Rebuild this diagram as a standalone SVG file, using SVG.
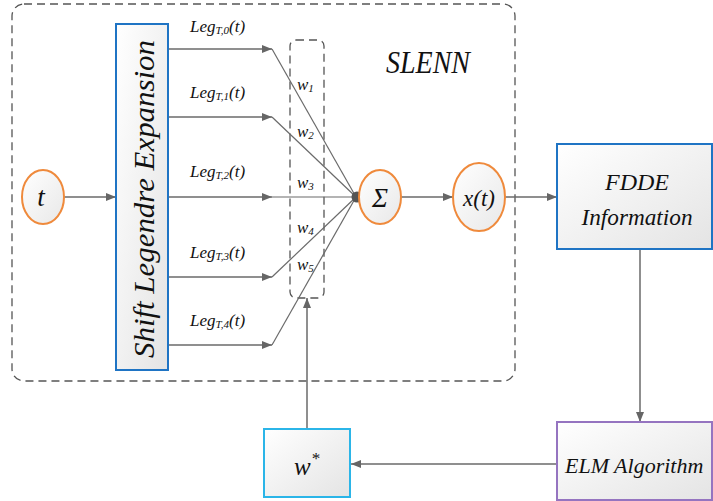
<svg xmlns="http://www.w3.org/2000/svg" width="713" height="501" viewBox="0 0 713 501">
  <defs>
    <linearGradient id="boxFill" x1="0" y1="0" x2="1" y2="1">
      <stop offset="0" stop-color="#ffffff"/>
      <stop offset="1" stop-color="#e4e4e4"/>
    </linearGradient>
    <linearGradient id="nodeFill" x1="0" y1="0" x2="1" y2="1">
      <stop offset="0" stop-color="#ffffff"/>
      <stop offset="1" stop-color="#e8e8e8"/>
    </linearGradient>
    <marker id="arrow" viewBox="0 0 10 8" refX="10" refY="4" markerWidth="10" markerHeight="8" markerUnits="userSpaceOnUse" orient="auto">
      <path d="M0,0 L10,4 L0,8 Z" fill="#666666"/>
    </marker>
  </defs>
  <style>
    .txt { font-family: "Liberation Serif", "Times New Roman", serif; font-style: italic; fill: #111111; }
    .link { stroke: #6a6a6a; stroke-width: 1.5; fill: none; }
    .thin { stroke: #6a6a6a; stroke-width: 1.2; fill: none; }
    .dash { stroke: #555555; stroke-width: 1.3; fill: none; stroke-dasharray: 8 5; }
    .node { fill: url(#nodeFill); stroke: #ef8a3c; stroke-width: 2; }
    .box { fill: url(#boxFill); stroke-width: 2; }
  </style>

  <rect width="713" height="501" fill="#ffffff"/>

  <!-- SLENN network frame -->
  <g id="slenn-frame">
    <rect class="dash" x="12" y="4" width="503" height="377" rx="12"/>
    <text class="txt" x="386" y="73" font-size="31" textLength="84" lengthAdjust="spacingAndGlyphs">SLENN</text>
  </g>

  <!-- weight block -->
  <g id="weights">
    <rect class="dash" x="290" y="40" width="34" height="258" rx="6" stroke-dasharray="7 5"/>
  </g>

  <!-- connectors -->
  <g id="connectors">
    <line class="link" x1="64" y1="197" x2="116" y2="197" marker-end="url(#arrow)"/>
    <line class="link" x1="168" y1="49" x2="272" y2="49" marker-end="url(#arrow)"/>
    <line class="link" x1="168" y1="117" x2="272" y2="117" marker-end="url(#arrow)"/>
    <line class="link" x1="168" y1="197" x2="272" y2="197" marker-end="url(#arrow)"/>
    <line class="link" x1="168" y1="277" x2="272" y2="277" marker-end="url(#arrow)"/>
    <line class="link" x1="168" y1="345" x2="272" y2="345" marker-end="url(#arrow)"/>
    <line class="thin" x1="272" y1="49" x2="356" y2="197"/>
    <line class="thin" x1="272" y1="117" x2="356" y2="197"/>
    <line class="thin" x1="272" y1="197" x2="356" y2="197"/>
    <line class="thin" x1="272" y1="277" x2="356" y2="197"/>
    <line class="thin" x1="272" y1="345" x2="356" y2="197"/>
    <line class="link" x1="401" y1="197" x2="453" y2="197" marker-end="url(#arrow)"/>
    <line class="link" x1="505" y1="197" x2="557" y2="197" marker-end="url(#arrow)"/>
    <line class="link" x1="640" y1="249" x2="640" y2="422" marker-end="url(#arrow)"/>
    <line class="link" x1="557" y1="464" x2="351" y2="464" marker-end="url(#arrow)"/>
    <line class="link" x1="307" y1="429" x2="307" y2="298" marker-end="url(#arrow)"/>
  </g>

  <!-- expansion labels -->
  <g id="leg-labels" class="txt" font-size="17">
    <text x="190" y="32">Leg<tspan font-size="11" dy="2">T,0</tspan><tspan dy="-2">(t)</tspan></text>
    <text x="190" y="98">Leg<tspan font-size="11" dy="2">T,1</tspan><tspan dy="-2">(t)</tspan></text>
    <text x="190" y="177">Leg<tspan font-size="11" dy="2">T,2</tspan><tspan dy="-2">(t)</tspan></text>
    <text x="190" y="258">Leg<tspan font-size="11" dy="2">T,3</tspan><tspan dy="-2">(t)</tspan></text>
    <text x="190" y="326">Leg<tspan font-size="11" dy="2">T,4</tspan><tspan dy="-2">(t)</tspan></text>
  </g>

  <!-- weight labels -->
  <g id="weight-labels" class="txt" font-size="17">
    <text x="297" y="90">w<tspan font-size="11" dy="2">1</tspan></text>
    <text x="297" y="137">w<tspan font-size="11" dy="2">2</tspan></text>
    <text x="297" y="188">w<tspan font-size="11" dy="2">3</tspan></text>
    <text x="297" y="233">w<tspan font-size="11" dy="2">4</tspan></text>
    <text x="297" y="270">w<tspan font-size="11" dy="2">5</tspan></text>
  </g>

  <!-- input node t -->
  <g id="node-t">
    <ellipse class="node" cx="43" cy="197" rx="21" ry="27"/>
    <text class="txt" x="41" y="206" font-size="27" text-anchor="middle">t</text>
  </g>

  <!-- expansion block -->
  <g id="node-expansion">
    <rect class="box" x="116" y="24" width="52" height="346" stroke="#1f74c4"/>
    <text class="txt" transform="translate(154,199) rotate(-90)" font-size="30" text-anchor="middle" textLength="318" lengthAdjust="spacingAndGlyphs">Shift Legendre Expansion</text>
  </g>

  <!-- summation node -->
  <g id="node-sum">
    <circle cx="357" cy="197" r="5.5" fill="#555555"/>
    <ellipse class="node" cx="380" cy="197" rx="21" ry="27"/>
    <text class="txt" x="380" y="207" font-size="27" text-anchor="middle">Σ</text>
  </g>

  <!-- output node -->
  <g id="node-output">
    <ellipse class="node" cx="479" cy="197" rx="26" ry="34"/>
    <text class="txt" x="479" y="206" font-size="23" text-anchor="middle">x(t)</text>
  </g>

  <!-- FDDE information -->
  <g id="node-fdde">
    <rect class="box" x="557" y="144" width="155" height="105" stroke="#1f74c4"/>
    <text class="txt" x="637" y="190" font-size="24" text-anchor="middle">FDDE</text>
    <text class="txt" x="637" y="225" font-size="24" text-anchor="middle" textLength="111" lengthAdjust="spacingAndGlyphs">Information</text>
  </g>

  <!-- ELM algorithm -->
  <g id="node-elm">
    <rect class="box" x="557" y="422" width="155" height="78" stroke="#9574c0"/>
    <text class="txt" x="565" y="473" font-size="22">ELM Algorithm</text>
  </g>

  <!-- optimal weights -->
  <g id="node-wstar">
    <rect class="box" x="264" y="429" width="86" height="68" stroke="#2bb5e8"/>
    <text class="txt" x="294" y="475" font-size="25">w</text>
    <text class="txt" x="311" y="464" font-size="17">*</text>
  </g>
</svg>
